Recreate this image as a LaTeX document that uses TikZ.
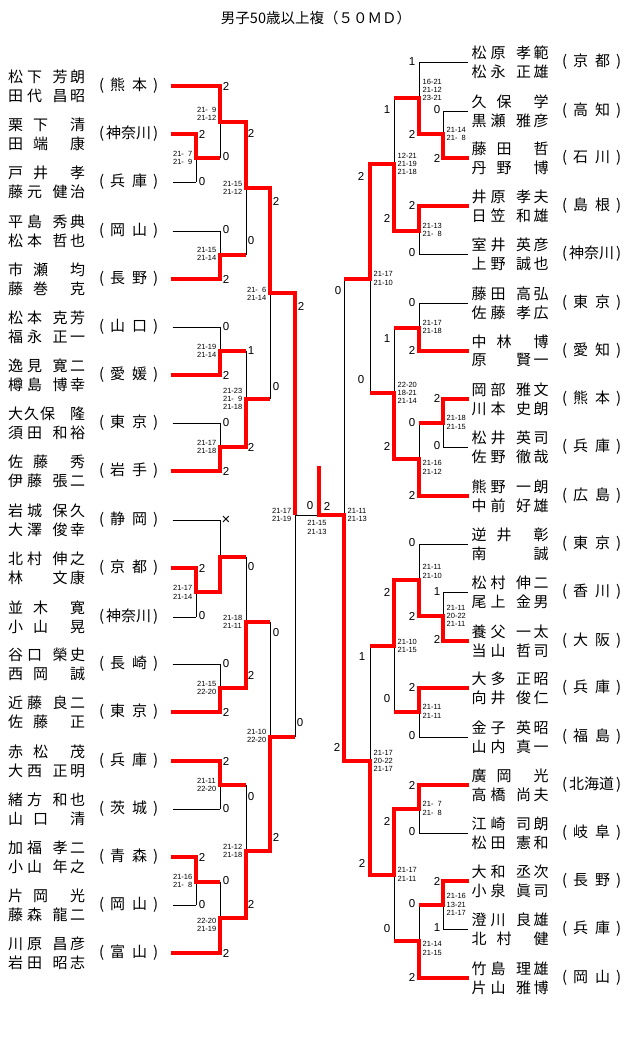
\documentclass[tikz,border=0pt]{standalone}
\usepackage{tikz}
\usepackage{fontspec}
\setmainfont{Liberation Sans}
\newfontfamily\jp{Noto Sans CJK JP}
\pgfdeclarelayer{front}
\pgfsetlayers{main,front}
\tikzset{
 blk/.style={line width=1pt, black},
 rd/.style={line width=3.6pt, red, line cap=rect, line join=miter},
 nm/.style={font=\jp\fontsize{15}{15}\selectfont, inner sep=0pt, anchor=west},
 lab/.style={font=\fontsize{11.5}{12}\selectfont, inner sep=0pt},
 sc/.style={font=\fontsize{7.5}{8.3}\selectfont, inner sep=0pt, align=left},
}
\newcommand\fs{\ \kern.278em}
\newcommand\pA[4]{#1\hspace{4pt}#2\hfill#3\hspace{2.5pt}#4}
\newcommand\pB[3]{#1\hspace{10pt}#2\hfill#3}
\newcommand\pC[3]{#1\hfill#2\hspace{2.5pt}#3}
\newcommand\pD[4]{#1\hspace{1pt}#2\hspace{1pt}#3\hfill#4}
\newcommand\pE[2]{#1\hfill#2}
\newcommand\pf[2]{(\hfill#1\hspace{7pt}#2\hfill)}
\newcommand\pg[3]{(\hfill#1#2#3\hfill)}
\newcommand\Ltext[5]{%
 \node[nm] (#1t) at (8,#2-9) {\makebox[77pt][l]{#3}};
 \node[nm] (#1b) at (8,#2+9.5) {\makebox[77pt][l]{#4}};
 \node[nm] (#1p) at (99,#2) {\makebox[59pt][l]{#5}};}
\newcommand\Rtext[5]{%
 \node[nm] (#1t) at (471.5,#2-9) {\makebox[77pt][l]{#3}};
 \node[nm] (#1b) at (471.5,#2+9.5) {\makebox[77pt][l]{#4}};
 \node[nm] (#1p) at (562,#2) {\makebox[59pt][l]{#5}};}
\newcommand\Bl[4]{\coordinate (#1s) at (#2,#4); \coordinate (#1e) at (#3,#4); \draw[blk] (#1s) -- (#1e);}
\newcommand\Rl[4]{\coordinate (#1s) at (#2,#4); \coordinate (#1e) at (#3,#4);
 \begin{pgfonlayer}{front}\draw[rd] (#1s) -- (#1e);\end{pgfonlayer}}
% match: name, x, ytop, ybot, yexit, xnext, ywin
\newcommand\mt[7]{%
 \coordinate (#1t) at (#2,#3); \coordinate (#1b) at (#2,#4);
 \coordinate (#1x) at (#2,#5); \coordinate (#1n) at (#6,#5); \coordinate (#1w) at (#2,#7);
 \draw[blk] (#1t) -- (#1b);
 \begin{pgfonlayer}{front}\draw[rd, shorten >=1.8pt] (#1w) -- (#1x) -- (#1n);\end{pgfonlayer}}
\newcommand\lb[4]{\node[lab] (#1) at (#2,#3) {#4};}
\newcommand\scl[4]{\node[sc, anchor=east] (#1) at (#2-3.5,#3) {#4};}
\newcommand\scr[4]{\node[sc, anchor=west] (#1) at (#2+3.5,#3) {#4};}
\begin{document}
\begin{tikzpicture}[x=1pt,y=-1pt]
\useasboundingbox (0,0) rectangle (640,1061);
\node[font=\jp\fontsize{14.5}{15}\selectfont, inner sep=0pt] (title) at (316,18) {男子50歳以上複（５０ＭＤ）};

% ---------- left names ----------
\Ltext{L0}{86}{\pA{松}{下}{芳}{朗}}{\pA{田}{代}{昌}{昭}}{\pf{熊}{本}}
\Ltext{L1}{134}{\pB{栗}{下}{清}}{\pB{田}{端}{康}}{\pg{神}{奈}{川}}
\Ltext{L2}{182}{\pB{戸}{井}{孝}}{\pA{藤}{元}{健}{治}}{\pf{兵}{庫}}
\Ltext{L3}{231}{\pA{平}{島}{秀}{典}}{\pA{松}{本}{哲}{也}}{\pf{岡}{山}}
\Ltext{L4}{279}{\pB{市}{瀬}{均}}{\pB{藤}{巻}{克}}{\pf{長}{野}}
\Ltext{L5}{327}{\pA{松}{本}{克}{芳}}{\pA{福}{永}{正}{一}}{\pf{山}{口}}
\Ltext{L6}{375}{\pA{逸}{見}{寛}{二}}{\pA{樽}{島}{博}{幸}}{\pf{愛}{媛}}
\Ltext{L7}{423}{\pD{大}{久}{保}{隆}}{\pA{須}{田}{和}{裕}}{\pf{東}{京}}
\Ltext{L8}{471}{\pB{佐}{藤}{秀}}{\pA{伊}{藤}{張}{二}}{\pf{岩}{手}}
\Ltext{L9}{520}{\pA{岩}{城}{保}{久}}{\pA{大}{澤}{俊}{幸}}{\pf{静}{岡}}
\Ltext{L10}{568}{\pA{北}{村}{伸}{之}}{\pC{林}{文}{康}}{\pf{京}{都}}
\Ltext{L11}{617}{\pB{並}{木}{寛}}{\pB{小}{山}{晃}}{\pg{神}{奈}{川}}
\Ltext{L12}{664}{\pA{谷}{口}{榮}{史}}{\pB{西}{岡}{誠}}{\pf{長}{崎}}
\Ltext{L13}{712}{\pA{近}{藤}{良}{二}}{\pB{佐}{藤}{正}}{\pf{東}{京}}
\Ltext{L14}{761}{\pB{赤}{松}{茂}}{\pA{大}{西}{正}{明}}{\pf{兵}{庫}}
\Ltext{L15}{809}{\pA{緒}{方}{和}{也}}{\pB{山}{口}{清}}{\pf{茨}{城}}
\Ltext{L16}{857}{\pA{加}{福}{孝}{二}}{\pA{小}{山}{年}{之}}{\pf{青}{森}}
\Ltext{L17}{905}{\pB{片}{岡}{光}}{\pA{藤}{森}{龍}{二}}{\pf{岡}{山}}
\Ltext{L18}{953}{\pA{川}{原}{昌}{彦}}{\pA{岩}{田}{昭}{志}}{\pf{富}{山}}

% ---------- right names ----------
\Rtext{R0}{62}{\pA{松}{原}{孝}{範}}{\pA{松}{永}{正}{雄}}{\pf{京}{都}}
\Rtext{R1}{111}{\pB{久}{保}{学}}{\pA{黒}{瀬}{雅}{彦}}{\pf{高}{知}}
\Rtext{R2}{158}{\pB{藤}{田}{哲}}{\pB{丹}{野}{博}}{\pf{石}{川}}
\Rtext{R3}{206}{\pA{井}{原}{孝}{夫}}{\pA{日}{笠}{和}{雄}}{\pf{島}{根}}
\Rtext{R4}{254}{\pA{室}{井}{英}{彦}}{\pA{上}{野}{誠}{也}}{\pg{神}{奈}{川}}
\Rtext{R5}{303}{\pA{藤}{田}{高}{弘}}{\pA{佐}{藤}{孝}{広}}{\pf{東}{京}}
\Rtext{R6}{351}{\pB{中}{林}{博}}{\pC{原}{賢}{一}}{\pf{愛}{知}}
\Rtext{R7}{399}{\pA{岡}{部}{雅}{文}}{\pA{川}{本}{史}{朗}}{\pf{熊}{本}}
\Rtext{R8}{447}{\pA{松}{井}{英}{司}}{\pA{佐}{野}{徹}{哉}}{\pf{兵}{庫}}
\Rtext{R9}{496}{\pA{熊}{野}{一}{朗}}{\pA{中}{前}{好}{雄}}{\pf{広}{島}}
\Rtext{R10}{544}{\pB{逆}{井}{彰}}{\pE{南}{誠}}{\pf{東}{京}}
\Rtext{R11}{592}{\pA{松}{村}{伸}{二}}{\pA{尾}{上}{金}{男}}{\pf{香}{川}}
\Rtext{R12}{641}{\pA{養}{父}{一}{太}}{\pA{当}{山}{哲}{司}}{\pf{大}{阪}}
\Rtext{R13}{688}{\pA{大}{多}{正}{昭}}{\pA{向}{井}{俊}{仁}}{\pf{兵}{庫}}
\Rtext{R14}{737}{\pA{金}{子}{英}{昭}}{\pA{山}{内}{真}{一}}{\pf{福}{島}}
\Rtext{R15}{785}{\pB{廣}{岡}{光}}{\pA{高}{橋}{尚}{夫}}{\pg{北}{海}{道}}
\Rtext{R16}{833}{\pA{江}{崎}{司}{朗}}{\pA{松}{田}{憲}{和}}{\pf{岐}{阜}}
\Rtext{R17}{881}{\pA{大}{和}{丞}{次}}{\pA{小}{泉}{眞}{司}}{\pf{長}{野}}
\Rtext{R18}{929}{\pA{澄}{川}{良}{雄}}{\pB{北}{村}{健}}{\pf{兵}{庫}}
\Rtext{R19}{978}{\pA{竹}{島}{理}{雄}}{\pA{片}{山}{雅}{博}}{\pf{岡}{山}}

% ---------- left entry lines ----------
\Rl{l0}{173}{220}{86}
\Rl{l1}{173}{196}{134}
\Bl{l2}{172.5}{196}{182}
\Bl{l3}{172.5}{220}{231}
\Rl{l4}{173}{220}{279}
\Bl{l5}{172.5}{220}{327}
\Rl{l6}{173}{220}{375}
\Bl{l7}{172.5}{220}{423}
\Rl{l8}{173}{220}{471}
\Bl{l9}{172.5}{220}{520}
\Rl{l10}{173}{196}{568}
\Bl{l11}{172.5}{196}{617}
\Bl{l12}{172.5}{220}{664}
\Rl{l13}{173}{220}{712}
\Rl{l14}{173}{220}{761}
\Bl{l15}{172.5}{220}{809}
\Rl{l16}{173}{196}{857}
\Bl{l17}{172.5}{196}{905}
\Rl{l18}{173}{220}{953}

% ---------- right entry lines ----------
\Bl{r0}{468}{419}{62}
\Bl{r1}{468}{443}{111}
\Rl{r2}{467}{443}{158}
\Rl{r3}{467}{419}{206}
\Bl{r4}{468}{419}{254}
\Bl{r5}{468}{419}{303}
\Rl{r6}{467}{419}{351}
\Rl{r7}{467}{443}{399}
\Bl{r8}{468}{443}{447}
\Rl{r9}{467}{419}{496}
\Bl{r10}{468}{419}{544}
\Bl{r11}{468}{443}{592}
\Rl{r12}{467}{443}{641}
\Rl{r13}{467}{419}{688}
\Bl{r14}{468}{419}{737}
\Rl{r15}{467}{419}{785}
\Bl{r16}{468}{419}{833}
\Rl{r17}{467}{443}{881}
\Bl{r18}{468}{443}{929}
\Rl{r19}{467}{419}{978}

% ---------- left matches ----------
\mt{M1a}{196}{134}{182}{158}{220}{134}
\mt{M1b}{196}{568}{617}{592}{220}{568}
\mt{M1c}{196}{857}{905}{882}{220}{857}
\mt{M2a}{220}{86}{158}{122}{246}{86}
\mt{M2b}{220}{231}{279}{255}{246}{279}
\mt{M2c}{220}{327}{375}{351}{246}{375}
\mt{M2d}{220}{423}{471}{447}{246}{471}
\mt{M2e}{220}{520}{592}{557}{246}{592}
\mt{M2f}{220}{664}{712}{688}{246}{712}
\mt{M2g}{220}{761}{809}{785}{246}{761}
\mt{M2h}{220}{882}{953}{918}{246}{953}
\mt{M3a}{246}{122}{255}{188}{270}{122}
\mt{M3b}{246}{351}{447}{399}{270}{447}
\mt{M3c}{246}{557}{688}{622}{270}{688}
\mt{M3d}{246}{785}{918}{851}{270}{918}
\mt{M4a}{270}{188}{399}{293}{295}{188}
\mt{M4b}{270}{622}{851}{737}{295}{851}
% left semifinal
\coordinate (M5t) at (295,293); \coordinate (M5b) at (295,737); \coordinate (M5x) at (295,515);
\coordinate (F) at (319,515); \coordinate (Ftop) at (319,468);
\draw[blk] (M5t) -- (M5b);
\draw[blk] (M5x) -- (F);
\begin{pgfonlayer}{front}\draw[rd, shorten >=1.8pt] (M5t) -- (M5x);\end{pgfonlayer}

% ---------- right matches ----------
\mt{R1a}{443}{111}{158}{134}{419}{158}
\mt{R1b}{443}{399}{447}{423}{419}{399}
\mt{R1c}{443}{592}{641}{616}{419}{641}
\mt{R1d}{443}{881}{929}{905}{419}{881}
\mt{R2a}{419}{62}{134}{98}{394}{134}
\mt{R2b}{419}{206}{254}{231}{394}{206}
\mt{R2c}{419}{303}{351}{328}{394}{351}
\mt{R2d}{419}{423}{496}{459}{394}{496}
\mt{R2e}{419}{544}{616}{580}{394}{616}
\mt{R2f}{419}{688}{737}{712}{394}{688}
\mt{R2g}{419}{785}{833}{809}{394}{785}
\mt{R2h}{419}{905}{978}{941}{394}{978}
\mt{R3a}{394}{98}{231}{164}{370}{231}
\mt{R3b}{394}{328}{459}{393}{370}{459}
\mt{R3c}{394}{580}{712}{646}{370}{580}
\mt{R3d}{394}{809}{941}{875}{370}{809}
\mt{R4a}{370}{164}{393}{279}{344}{164}
\mt{R4b}{370}{646}{875}{761}{344}{875}
\mt{R5}{344}{279}{761}{515}{319}{761}
% champion
\begin{pgfonlayer}{front}\draw[rd] (F) -- (Ftop);\end{pgfonlayer}

% ---------- left result labels ----------
\lb{a1}{202}{134}{2} \lb{a2}{202}{182}{0}
\lb{a3}{202}{568}{2} \lb{a4}{202}{616}{0}
\lb{a5}{202}{857}{2} \lb{a6}{202}{905}{0}
\lb{b1}{226}{86}{2} \lb{b2}{226}{157}{0}
\lb{b3}{226}{230}{0} \lb{b4}{226}{279}{2}
\lb{b5}{226}{327}{0} \lb{b6}{226}{375}{2}
\lb{b7}{226}{423}{0} \lb{b8}{226}{471}{2}
\node[lab, font=\fontsize{15}{15}\selectfont] (b9) at (226,520) {×};
\lb{b11}{226}{664}{0} \lb{b12}{226}{712}{2}
\lb{b13}{226}{761}{2} \lb{b14}{226}{809}{0}
\lb{b15}{226}{881}{0} \lb{b16}{226}{953}{2}
\lb{c1}{251}{133}{2} \lb{c2}{251}{241}{0}
\lb{c3}{251}{351}{1} \lb{c4}{251}{447}{2}
\lb{c5}{251}{567}{0} \lb{c6}{251}{675}{2}
\lb{c7}{251}{797}{0} \lb{c8}{251}{904}{2}
\lb{d1}{276}{201}{2} \lb{d2}{276}{387}{0}
\lb{d3}{276}{633}{0} \lb{d4}{276}{837}{2}
\lb{e1}{301}{306}{2} \lb{e2}{300}{723}{0}
\lb{f1}{310}{506}{0} \lb{f2}{327}{506}{2}

% ---------- right result labels ----------
\lb{ra1}{412}{62}{1} \lb{ra2}{412}{134}{2}
\lb{rb1}{437}{110}{0} \lb{rb2}{437}{158}{2}
\lb{ra3}{412}{205}{2} \lb{ra4}{412}{253}{0}
\lb{ra5}{412}{303}{0} \lb{ra6}{412}{350}{2}
\lb{rb3}{437}{398}{2} \lb{rb4}{437}{446}{0}
\lb{ra7}{412}{423}{0} \lb{ra8}{412}{495}{2}
\lb{ra9}{412}{543}{0} \lb{ra10}{412}{616}{2}
\lb{rb5}{437}{592}{1} \lb{rb6}{437}{639}{2}
\lb{ra11}{412}{687}{2} \lb{ra12}{412}{736}{0}
\lb{ra13}{412}{785}{2} \lb{ra14}{412}{832}{0}
\lb{rb7}{437}{881}{2} \lb{rb8}{437}{928}{1}
\lb{ra15}{412}{904}{0} \lb{ra16}{412}{977}{2}
\lb{rc1}{387}{110}{1} \lb{rc2}{387}{218}{2}
\lb{rc3}{387}{339}{1} \lb{rc4}{387}{446}{2}
\lb{rc5}{387}{592}{2} \lb{rc6}{387}{699}{0}
\lb{rc7}{387}{821}{2} \lb{rc8}{387}{929}{0}
\lb{rd1}{361}{176}{2} \lb{rd2}{361}{380}{0}
\lb{rd3}{362}{657}{1} \lb{rd4}{362}{863}{2}
\lb{re1}{338}{291}{0} \lb{re2}{337}{747}{2}

% ---------- left scores ----------
\scl{s1}{196}{158}{21-\fs 7\\21-\fs 9}
\scl{s2}{196}{592.5}{21-17\\21-14}
\scl{s3}{196}{881}{21-16\\21-\fs 8}
\scl{s4}{220}{114}{21-\fs 9\\21-12}
\scl{s5}{220}{254}{21-15\\21-14}
\scl{s6}{220}{351}{21-19\\21-14}
\scl{s7}{220}{447}{21-17\\21-18}
\scl{s8}{220}{688}{21-15\\22-20}
\scl{s9}{220}{785}{21-11\\22-20}
\scl{s10}{220}{925}{22-20\\21-19}
\scl{s11}{246}{188}{21-15\\21-12}
\scl{s12}{246}{399}{21-23\\21-\fs 9\\21-18}
\scl{s13}{246}{622}{21-18\\21-11}
\scl{s14}{246}{851}{21-12\\21-18}
\scl{s15}{270}{294}{21-\fs 6\\21-14}
\scl{s16}{270}{736}{21-10\\22-20}
\scl{s17}{295}{515}{21-17\\21-19}
\node[sc] (sF) at (317,527.5) {21-15\\21-13};

% ---------- right scores ----------
\scr{t1}{443}{134}{21-14\\21-\fs 8}
\scr{t2}{443}{422.5}{21-18\\21-15}
\scr{t3}{443}{616}{21-11\\20-22\\21-11}
\scr{t4}{443}{904.5}{21-16\\13-21\\21-17}
\scr{t5}{419}{90}{16-21\\21-12\\23-21}
\scr{t6}{419}{230}{21-13\\21-\fs 8}
\scr{t7}{419}{327}{21-17\\21-18}
\scr{t8}{419}{467.5}{21-16\\21-12}
\scr{t9}{419}{571.5}{21-11\\21-10}
\scr{t10}{419}{711.5}{21-11\\21-11}
\scr{t11}{419}{808.5}{21-\fs 7\\21-\fs 8}
\scr{t12}{419}{948.5}{21-14\\21-15}
\scr{t13}{394}{164}{12-21\\21-19\\21-18}
\scr{t14}{394}{393}{22-20\\18-21\\21-14}
\scr{t15}{394}{646}{21-10\\21-15}
\scr{t16}{394}{874.5}{21-17\\21-11}
\scr{t17}{370}{278.5}{21-17\\21-10}
\scr{t18}{370}{761}{21-17\\20-22\\21-17}
\scr{t19}{344}{515}{21-11\\21-13}
\end{tikzpicture}
\end{document}
